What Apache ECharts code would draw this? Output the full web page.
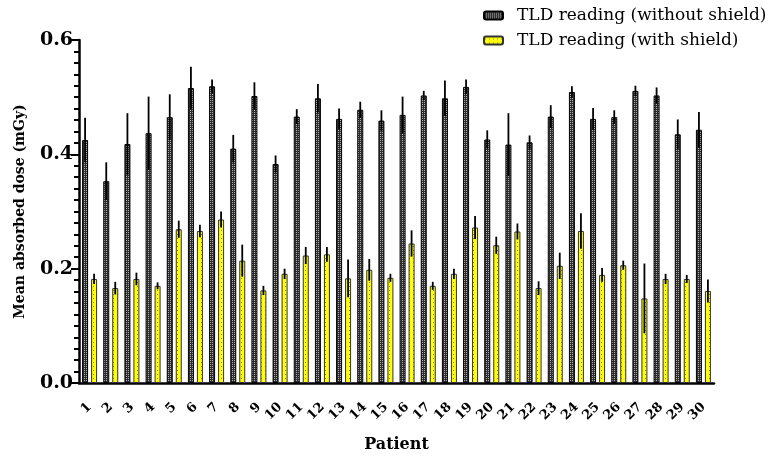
<!DOCTYPE html>
<html>
<head>
<meta charset="utf-8">
<script src="https://cdn.jsdelivr.net/npm/echarts@6/dist/echarts.min.js"></script>
<style>html,body{margin:0;padding:0;background:#fff}#c{width:775px;height:462px}</style>
</head>
<body>
<div id="c"></div>
<script>
var patients = ['1','2','3','4','5','6','7','8','9','10','11','12','13','14','15','16','17','18','19','20','21','22','23','24','25','26','27','28','29','30'];
var withoutShield = [0.425,0.353,0.418,0.437,0.465,0.516,0.519,0.410,0.502,0.383,0.466,0.498,0.462,0.478,0.459,0.469,0.503,0.498,0.518,0.426,0.417,0.421,0.466,0.509,0.462,0.465,0.511,0.503,0.435,0.443];
var withoutShieldSD = [0.039,0.033,0.054,0.064,0.040,0.037,0.012,0.024,0.024,0.015,0.013,0.025,0.018,0.014,0.018,0.032,0.008,0.031,0.013,0.016,0.055,0.012,0.020,0.010,0.019,0.012,0.009,0.014,0.026,0.031];
var withShield = [0.182,0.166,0.182,0.170,0.269,0.266,0.286,0.214,0.162,0.191,0.223,0.225,0.183,0.198,0.184,0.244,0.170,0.191,0.272,0.241,0.265,0.166,0.205,0.266,0.189,0.206,0.148,0.182,0.182,0.161];
var withShieldSD = [0.009,0.011,0.011,0.006,0.015,0.011,0.014,0.028,0.008,0.009,0.015,0.013,0.033,0.019,0.007,0.023,0.007,0.009,0.020,0.015,0.014,0.012,0.023,0.031,0.012,0.008,0.061,0.009,0.007,0.020];
var yTicks = [0, 0.2, 0.4, 0.6];

function makePattern(bg, fg, size, dots) {
  var c = document.createElement('canvas');
  c.width = size; c.height = size;
  var ctx = c.getContext('2d');
  ctx.fillStyle = bg; ctx.fillRect(0, 0, size, size);
  ctx.fillStyle = fg;
  dots.forEach(function (d) { ctx.fillRect(d[0], d[1], 1, 1); });
  return c;
}
var darkPat = makePattern('#2e2e2e', '#b0b0b0', 2, [[0,0]]);
var yellowPat = makePattern('#ffff00', '#8a8a40', 4, [[1,2]]);

function errData(vals, sds) {
  return vals.map(function (v, i) { return [i, v, sds[i]]; });
}
function errRender(offset) {
  return function (params, api) {
    var i = api.value(0), v = api.value(1), e = api.value(2);
    var top = api.coord([i, v + e]);
    var bot = api.coord([i, v - e]);
    return {
      type: 'line',
      shape: { x1: top[0] + offset, y1: top[1], x2: bot[0] + offset, y2: bot[1] },
      style: { stroke: '#000', lineWidth: 1.8 }
    };
  };
}

var chart = echarts.init(document.getElementById('c'));
var serif = '"DejaVu Serif", serif';
chart.setOption({
  animation: false,
  textStyle: { fontFamily: serif },
  grid: { left: 79, right: 61, top: 40, bottom: 79, outerBoundsMode: 'none', containLabel: false },
  legend: {
    orient: 'vertical', left: 483, top: 7, padding: 0, itemWidth: 19, itemHeight: 8, itemGap: 8,
    data: ['TLD reading (without shield)', 'TLD reading (with shield)'],
    textStyle: { fontFamily: serif, fontSize: 17, color: '#000', padding: [0, 0, 0, 9] }
  },
  xAxis: {
    type: 'category', data: patients,
    name: 'Patient', nameLocation: 'middle', nameGap: 54,
    nameTextStyle: { fontFamily: serif, fontWeight: 'bold', fontSize: 16, color: '#000' },
    axisLine: { lineStyle: { color: '#000', width: 2.5 } },
    axisTick: { alignWithLabel: true, length: 9, lineStyle: { color: '#000', width: 2 } },
    axisLabel: { interval: 0, rotate: 45, margin: 22, fontFamily: serif, fontWeight: 'bold', fontSize: 13, color: '#000' }
  },
  yAxis: {
    type: 'value', min: yTicks[0], max: yTicks[yTicks.length - 1], interval: 0.2,
    name: 'Mean absorbed dose (mGy)', nameLocation: 'middle', nameGap: 52,
    nameTextStyle: { fontFamily: serif, fontWeight: 'bold', fontSize: 14, color: '#000' },
    axisLine: { show: true, lineStyle: { color: '#000', width: 2.5 } },
    axisTick: { show: true, length: 8, lineStyle: { color: '#000', width: 2 } },
    minorTick: { show: true, splitNumber: 10, length: 5, lineStyle: { color: '#000', width: 2 } },
    splitLine: { show: false },
    axisLabel: { formatter: function (v) { return v.toFixed(1); }, margin: 6,
      fontFamily: serif, fontWeight: 'bold', fontSize: 19, color: '#000' }
  },
  series: [
    { name: 'TLD reading (without shield)', type: 'bar', data: withoutShield,
      barWidth: 6, barGap: '50%',
      itemStyle: { color: { image: darkPat, repeat: 'repeat' }, borderColor: '#000', borderWidth: 1 } },
    { name: 'TLD reading (with shield)', type: 'bar', data: withShield,
      barWidth: 6,
      itemStyle: { color: { image: yellowPat, repeat: 'repeat' }, borderColor: '#333', borderWidth: 1 } },
    { type: 'custom', name: 'errWithout', data: errData(withoutShield, withoutShieldSD),
      encode: { x: 0, y: 1 }, renderItem: errRender(-4.5), z: 5, silent: true },
    { type: 'custom', name: 'errWith', data: errData(withShield, withShieldSD),
      encode: { x: 0, y: 1 }, renderItem: errRender(4.5), z: 5, silent: true }
  ]
});
</script>
</body>
</html>
